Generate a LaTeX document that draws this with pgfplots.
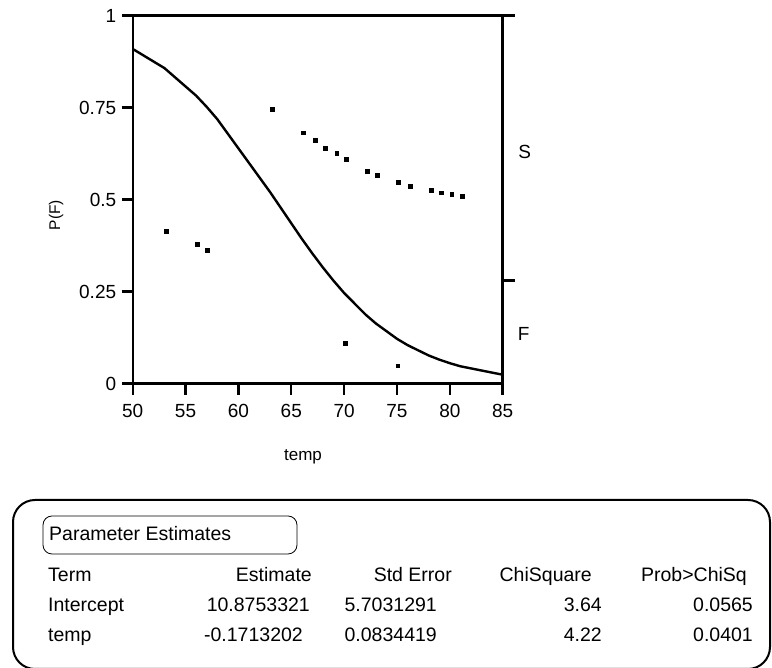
\documentclass[border=0pt]{standalone}
\usepackage{fontspec}
\setmainfont{Liberation Sans}
\usepackage{pgfplots}
\pgfplotsset{compat=1.18}
\begin{document}
\begin{tikzpicture}[x=1pt,y=1pt]
\useasboundingbox (0pt,0pt) rectangle (772pt,668pt);
\begin{axis}[
  at={(132.7pt,284.3pt)}, anchor=south west,
  scale only axis, width=370pt, height=368pt,
  xmin=50, xmax=85, ymin=0, ymax=1,
  xtick={50,55,...,85}, ytick={0,0.25,0.5,0.75,1},
  yticklabels={0,0.25,0.5,0.75,1},
  xtick pos=bottom, ytick pos=left, tick align=outside,
  major tick length=11pt,
  separate axis lines,
  axis line style={line width=2.4pt},
  tick style={line width=2.4pt, black},
  tick label style={font=\fontsize{19}{21}\selectfont},
  xticklabel style={yshift=-6pt},
  yticklabel style={xshift=-2pt},
  /pgf/number format/assume math mode=true,
  clip=false,
]
% fitted logistic curve (evaluated at data temperatures)
\addplot[black, line width=2.4pt, mark=none] coordinates {
 (50,0.9097) (53,0.8576) (56,0.7827) (57,0.7522) (58,0.7188) (63,0.5205)
 (66,0.3937) (67,0.3536) (68,0.3155) (69,0.2797) (70,0.2465) (72,0.1885)
 (73,0.1637) (75,0.1220) (76,0.1048) (78,0.0767) (79,0.0654) (80,0.0557)
 (81,0.0473) (85,0.0244)
};
% jittered observations
\addplot[only marks, mark=square*, mark size=1.9pt, black] coordinates {
 (63.2,0.745) (66.14,0.682) (67.25,0.662) (68.19,0.641) (69.3,0.6255)
 (70.18,0.609) (72.2,0.578) (73.14,0.566) (75.13,0.547) (76.23,0.537)
 (78.2,0.525) (79.17,0.519) (80.17,0.516) (81.18,0.510)
 (53.2,0.415) (56.1,0.378) (57.03,0.363) (70.08,0.111) (75.07,0.049)
};
\draw[line width=2.4pt] (axis cs:85,1) -- ++(12pt,0pt);
\draw[line width=2.4pt] (axis cs:85,0.28) -- ++(12pt,0pt);
\node[font=\fontsize{19}{21}\selectfont, xshift=22pt] at (axis cs:85,0.631) {S};
\node[font=\fontsize{19}{21}\selectfont, xshift=21pt] at (axis cs:85,0.135) {F};
\end{axis}
\node[rotate=90, font=\fontsize{15.5}{17}\selectfont] at (56pt,453pt) {P(F)};
\node[font=\fontsize{17}{19}\selectfont] at (303pt,211pt) {temp};
% parameter estimates table
\draw[line width=2pt, rounded corners=22pt] (13pt,-1pt) rectangle (770pt,168pt);
\draw[line width=0.8pt, rounded corners=9pt] (43pt,114pt) rectangle (297pt,152pt);
\begin{scope}[every node/.style={font=\fontsize{19.5}{21}\selectfont, inner sep=0pt}]
\node[anchor=base west] at (49pt,127pt) {Parameter Estimates};
\node[anchor=base west] at (48pt,86pt) {Term};
\node[anchor=base east] at (312pt,86pt) {Estimate};
\node[anchor=base east] at (452pt,86pt) {Std Error};
\node[anchor=base east] at (592pt,86pt) {ChiSquare};
\node[anchor=base east] at (747pt,86pt) {Prob>ChiSq};
\node[anchor=base west] at (48pt,56pt) {Intercept};
\node[anchor=base east] at (310pt,56pt) {10.8753321};
\node[anchor=base east] at (437pt,56pt) {5.7031291};
\node[anchor=base east] at (602pt,56pt) {3.64};
\node[anchor=base east] at (753pt,56pt) {0.0565};
\node[anchor=base west] at (48pt,26pt) {temp};
\node[anchor=base east] at (303pt,26pt) {-0.1713202};
\node[anchor=base east] at (437pt,26pt) {0.0834419};
\node[anchor=base east] at (602pt,26pt) {4.22};
\node[anchor=base east] at (753pt,26pt) {0.0401};
\end{scope}
\end{tikzpicture}
\end{document}
